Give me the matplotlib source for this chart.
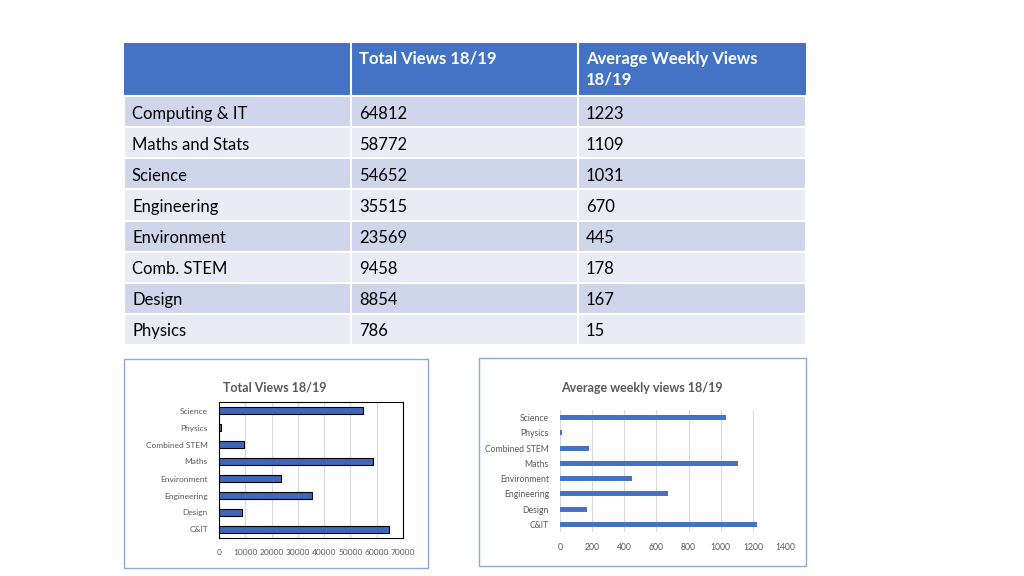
import matplotlib.pyplot as plt
from matplotlib.patches import Rectangle

plt.rcParams['font.family'] = ['Lato', 'DejaVu Sans']

# table data
subjects = ["Computing & IT", "Maths and Stats", "Science", "Engineering",
            "Environment", "Comb. STEM", "Design", "Physics"]
total_views = [64812, 58772, 54652, 35515, 23569, 9458, 8854, 786]
weekly_views = [1223, 1109, 1031, 670, 445, 178, 167, 15]
col_headers = ["", "Total Views 18/19", "Average Weekly Views\n18/19"]

# chart data (bottom to top, as in the charts)
chart_cats = ["C&IT", "Design", "Engineering", "Environment", "Maths",
              "Combined STEM", "Physics", "Science"]
chart_total = [64812, 8854, 35515, 23569, 58772, 9458, 786, 54652]
chart_weekly = [1223, 167, 670, 445, 1109, 178, 15, 1031]

W, H = 1024, 576
fig = plt.figure(figsize=(10.24, 5.76), dpi=100)

# background axes in pixel coordinates for table and frames
bg = fig.add_axes([0, 0, 1, 1])
bg.set_xlim(0, W)
bg.set_ylim(H, 0)
bg.axis('off')

col_x = [124, 351, 578, 806]
head_top, head_bot = 43, 96
row_h = (345 - 96) / 8

# header row
bg.add_patch(Rectangle((col_x[0], head_top), col_x[3] - col_x[0], head_bot - head_top,
                       facecolor='#4472C4', edgecolor='none'))
for j in range(1, 3):
    bg.plot([col_x[j], col_x[j]], [head_top, head_bot], color='white', lw=1.5)
    bg.text(col_x[j] + 8, 51, col_headers[j], color='white', fontsize=12,
            fontweight='bold', va='top', ha='left', linespacing=1.35)

for i, name in enumerate(subjects):
    y0 = head_bot + i * row_h
    fc = '#CFD5EA' if i % 2 == 0 else '#E9EBF5'
    bg.add_patch(Rectangle((col_x[0], y0), col_x[3] - col_x[0], row_h,
                           facecolor=fc, edgecolor='white', lw=1.5))
    for j in range(1, 3):
        bg.plot([col_x[j], col_x[j]], [y0, y0 + row_h], color='white', lw=1.5)
    yc = y0 + row_h / 2 + 2
    vals = [name, str(total_views[i]), str(weekly_views[i])]
    for j in range(3):
        bg.text(col_x[j] + 8, yc, vals[j], fontsize=12, va='center', ha='left',
                color='black')

# chart frames
bg.add_patch(Rectangle((124, 359), 304, 209, facecolor='white', edgecolor='#8EA9DB', lw=1))
bg.add_patch(Rectangle((479, 358), 327, 208, facecolor='white', edgecolor='#8EA9DB', lw=1))


def px_axes(x0, y0, x1, y1):
    return fig.add_axes([x0 / W, 1 - y1 / H, (x1 - x0) / W, (y1 - y0) / H])


grey = '#595959'

# chart 1: total views
ax1 = px_axes(219, 402, 403, 538)
ax1.barh(range(len(chart_cats)), chart_total, height=0.36, color='#3F66B8',
         edgecolor='black', lw=0.8, zorder=3)
ax1.set_xlim(0, 70000)
ax1.set_ylim(-0.5, len(chart_cats) - 0.5)
ax1.set_xticks(range(0, 70001, 10000))
ax1.set_yticks(range(len(chart_cats)))
ax1.set_yticklabels(chart_cats)
ax1.grid(axis='x', color='#D9D9D9', lw=0.8, zorder=0)
ax1.tick_params(length=0, labelsize=6, labelcolor=grey, pad=8)
for s in ax1.spines.values():
    s.set_color('black')
    s.set_linewidth(0.8)
fig.text(275 / W, 1 - 387 / H, "Total Views 18/19", ha='center', va='center',
         fontsize=9, fontweight='bold', color=grey)

# chart 2: average weekly views
ax2 = px_axes(560, 410, 785, 532)
ax2.barh(range(len(chart_cats)), chart_weekly, height=0.32, color='#4472C4', zorder=3)
ax2.set_xlim(0, 1400)
ax2.set_ylim(-0.5, len(chart_cats) - 0.5)
ax2.set_xticks(range(0, 1401, 200))
ax2.set_yticks(range(len(chart_cats)))
ax2.set_yticklabels(chart_cats)
ax2.grid(axis='x', color='#D9D9D9', lw=0.8, zorder=0)
ax2.tick_params(length=0, labelsize=6.2, labelcolor=grey, pad=8)
for s in ax2.spines.values():
    s.set_visible(False)
fig.text(642 / W, 1 - 388 / H, "Average weekly views 18/19", ha='center', va='center',
         fontsize=9, fontweight='bold', color=grey)

fig.savefig('out.png', dpi=100)
